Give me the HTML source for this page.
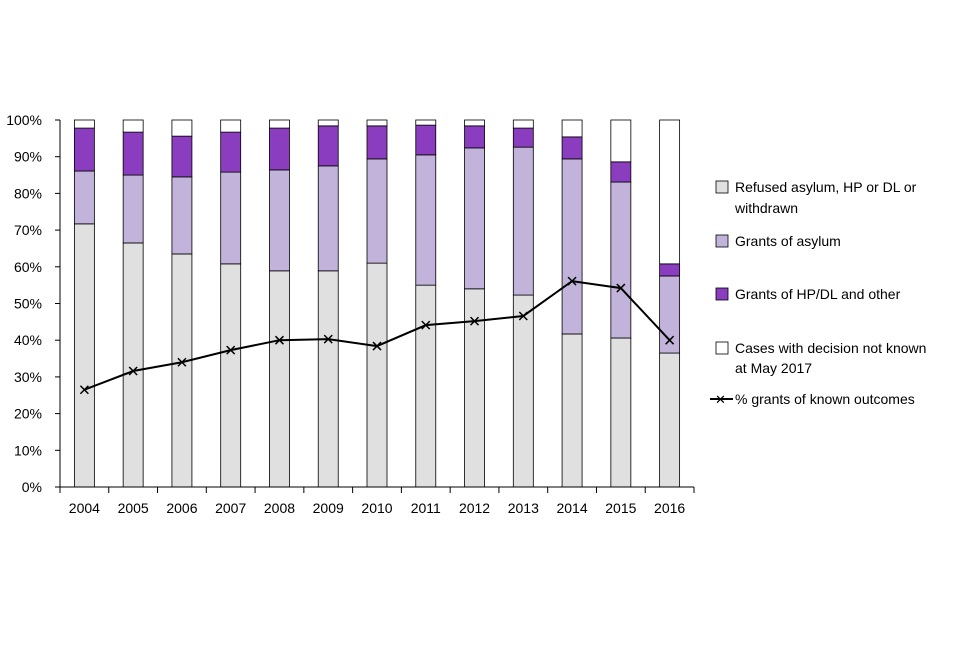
<!DOCTYPE html>
<html><head><meta charset="utf-8"><style>
body{margin:0;background:#fff;}
svg text{font-family:"Liberation Sans",sans-serif;font-size:14px;fill:#000;}
</style></head><body>
<svg id="chart" width="960" height="640">
<g id="grid"></g><g id="bars"></g><g id="line"></g><g id="axes"></g>
<g id="legend">
<rect x="716" y="181" width="12" height="12" fill="#e0e0e0" stroke="#000" stroke-width="0.8"/>
<text x="735" y="192">Refused asylum, HP or DL or</text>
<text x="735" y="213">withdrawn</text>
<rect x="716" y="235" width="12" height="12" fill="#c1b3d9" stroke="#000" stroke-width="0.8"/>
<text x="735" y="246">Grants of asylum</text>
<rect x="716" y="288" width="12" height="12" fill="#8a3dbe" stroke="#000" stroke-width="0.8"/>
<text x="735" y="299">Grants of HP/DL and other</text>
<rect x="716" y="342" width="12" height="12" fill="#fff" stroke="#000" stroke-width="0.8"/>
<text x="735" y="353">Cases with decision not known</text>
<text x="735" y="373">at May 2017</text>
<line x1="710" y1="399" x2="733" y2="399" stroke="#000" stroke-width="2"/>
<text x="715" y="404" style="font-size:13px">✕</text>
<text x="735" y="404">% grants of known outcomes</text>
</g>
</svg>
<script>
const years=["2004","2005","2006","2007","2008","2009","2010","2011","2012","2013","2014","2015","2016"];
const refused=[71.7,66.5,63.5,60.8,58.9,58.9,61,55,54,52.3,41.7,40.6,36.5];
const asylum=[14.4,18.5,21,25,27.5,28.6,28.4,35.5,38.4,40.3,47.7,42.5,21];
const hp=[11.7,11.7,11.1,10.9,11.4,10.9,9,8.1,6,5.2,6,5.5,3.3];
const grantsPct=[26.5,31.6,34,37.3,40,40.3,38.4,44.1,45.2,46.6,56.1,54.2,40];
const yTicks=[0,10,20,30,40,50,60,70,80,90,100];
const NS="http://www.w3.org/2000/svg";
const X0=60,X1=694,Y0=487,Y1=120;
const band=(X1-X0)/years.length;
const xc=i=>X0+band*(i+0.5);
const y=v=>Y0-(Y1-Y0)*-1*v/100*-1;
function yy(v){return Y0-(Y0-Y1)*v/100;}
function mk(t,a,p){const e=document.createElementNS(NS,t);for(const k in a)e.setAttribute(k,a[k]);(p||document.getElementById('chart')).appendChild(e);return e;}
const bars=document.getElementById('bars'),axes=document.getElementById('axes'),line=document.getElementById('line');
const BW=20;
years.forEach((yr,i)=>{
  const segs=[[refused[i],'#e0e0e0','refused'],[asylum[i],'#c1b3d9','asylum'],[hp[i],'#8a3dbe','hp']];
  let acc=0;
  segs.forEach(s=>{
    const r=mk('rect',{x:xc(i)-BW/2,y:yy(acc+s[0]),width:BW,height:yy(acc)-yy(acc+s[0]),fill:s[1],stroke:'#000','stroke-width':0.8},bars);
    
    
    acc+=s[0];
  });
  const u=mk('rect',{x:xc(i)-BW/2,y:yy(100),width:BW,height:Math.max(0,yy(acc)-yy(100)),fill:'#fff',stroke:'#000','stroke-width':0.8},bars);
  
  
  const t=mk('text',{x:xc(i),y:Y0+26,'text-anchor':'middle'},axes);
  t.textContent=yr;
  
  
  const tk=mk('line',{x1:X0+band*i,x2:X0+band*i,y1:Y0,y2:Y0+6,stroke:'#000'},axes);
  
  
});
mk('line',{x1:X1,x2:X1,y1:Y0,y2:Y0+6,stroke:'#000'},axes);
yTicks.forEach(v=>{
  const t=mk('text',{x:42,y:yy(v)+5,'text-anchor':'end'},axes);
  t.textContent=v+'%';
  
  
  const l=mk('line',{x1:X0-5,x2:X0,y1:yy(v),y2:yy(v),stroke:'#000'},axes);
  
  
});
const ya=mk('line',{x1:X0,x2:X0,y1:Y1,y2:Y0,stroke:'#000'},axes);

const xa=mk('line',{x1:X0,x2:X1,y1:Y0,y2:Y0,stroke:'#000'},axes);

const pl=mk('polyline',{points:grantsPct.map((v,i)=>xc(i)+','+yy(v)).join(' '),fill:'none',stroke:'#000','stroke-width':2},line);


grantsPct.forEach((v,i)=>{
  const m=mk('path',{d:`M${xc(i)-4},${yy(v)-4}L${xc(i)+4},${yy(v)+4}M${xc(i)-4},${yy(v)+4}L${xc(i)+4},${yy(v)-4}`,stroke:'#000','stroke-width':1.5},line);
  
  
});
</script>
</body></html>
